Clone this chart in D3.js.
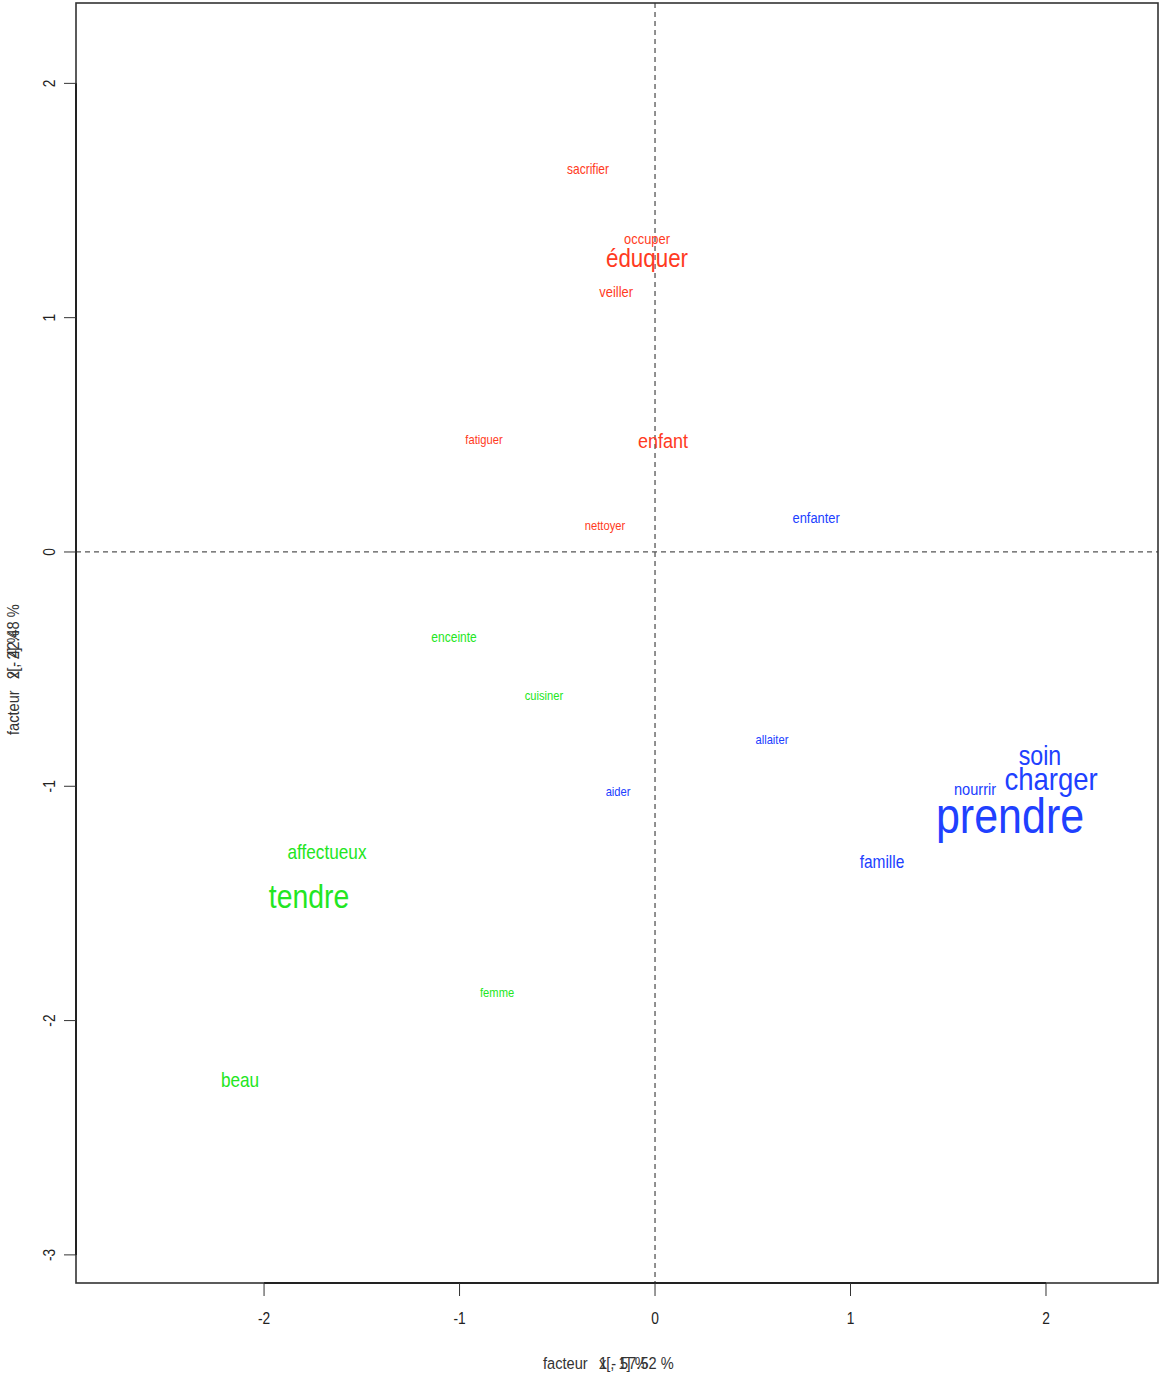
<!DOCTYPE html>
<html>
<head>
<meta charset="utf-8">
<script src="https://cdn.jsdelivr.net/npm/d3@7"></script>
<style>
  body { margin: 0; background: #fff; }
  text { font-family: "Liberation Sans", Arial, sans-serif; }
</style>
</head>
<body>
<script>
// words and their factor coordinates
const words = ["sacrifier","occuper","éduquer","veiller","fatiguer","enfant","nettoyer",
  "enfanter","enceinte","cuisiner","allaiter","aider","soin","nourrir","charger","prendre",
  "famille","affectueux","tendre","femme","beau"]
const f1 = [-0.343,-0.041,-0.041,-0.199,-0.875,0.041,-0.256,
  0.824,-1.028,-0.568,0.598,-0.189,1.969,1.637,2.026,1.816,
  1.161,-1.678,-1.770,-0.808,-2.123]
const f2 = [1.635,1.336,1.255,1.11,0.478,0.474,0.111,
  0.145,-0.363,-0.615,-0.802,-1.024,-0.866,-1.01,-0.969,-1.127,
  -1.323,-1.28,-1.472,-1.882,-2.254]
const sizes = [14,15,26,15,13,21,13, 15,14,13,13,13,27,17,32,50, 18,20,33,13,20]
const groups = [1,1,1,1,1,1,1, 2,3,3,2,2,2,2,2,2, 2,3,3,3,3]
const xTicks = [-2,-1,0,1,2]
const yTicks = [-3,-2,-1,0,1,2]

const colors = {1:"#ff3a22", 2:"#2040ff", 3:"#22e622"}
const sx = 0.86 // condensed look of the original

const W = 1160, H = 1377
const pL = 76, pR = 1158, pT = 3, pB = 1283

const x = d3.scaleLinear().domain([-2.962, 2.573]).range([pL, pR])
const y = d3.scaleLinear().domain([-3.12, 2.343]).range([pB, pT])

const svg = d3.select("body").append("svg").attr("width", W).attr("height", H)

// dashed zero lines
svg.append("line").attr("x1", x(0)).attr("x2", x(0)).attr("y1", pT).attr("y2", pB)
  .attr("stroke", "#555").attr("stroke-dasharray", "5,4").attr("stroke-width", 1.3)
svg.append("line").attr("x1", pL).attr("x2", pR).attr("y1", y(0)).attr("y2", y(0))
  .attr("stroke", "#555").attr("stroke-dasharray", "5,4").attr("stroke-width", 1.3)

// box
svg.append("rect").attr("x", pL).attr("y", pT).attr("width", pR - pL).attr("height", pB - pT)
  .attr("fill", "none").attr("stroke", "#333").attr("stroke-width", 1.6)

// x axis
const gx = svg.append("g")
gx.append("line").attr("x1", x(-2)).attr("x2", x(2)).attr("y1", pB).attr("y2", pB)
  .attr("stroke", "#222").attr("stroke-width", 2)
gx.selectAll("line.t").data(xTicks).enter().append("line").attr("class", "t")
  .attr("x1", d => x(d)).attr("x2", d => x(d)).attr("y1", pB).attr("y2", pB + 13)
  .attr("stroke", "#333")
gx.selectAll("text").data(xTicks).enter().append("text")
  .attr("transform", d => `translate(${x(d)},${pB + 41}) scale(${sx},1)`)
  .attr("text-anchor", "middle").attr("font-size", 16).attr("fill", "#222")
  .text(d => d)

// y axis
const gy = svg.append("g")
gy.append("line").attr("x1", pL).attr("x2", pL).attr("y1", y(-3)).attr("y2", y(2))
  .attr("stroke", "#222").attr("stroke-width", 2)
gy.selectAll("line.t").data(yTicks).enter().append("line").attr("class", "t")
  .attr("x1", pL).attr("x2", pL - 12).attr("y1", d => y(d)).attr("y2", d => y(d))
  .attr("stroke", "#333")
gy.selectAll("text").data(yTicks).enter().append("text")
  .attr("transform", d => `translate(${pL - 21},${y(d)}) rotate(-90) scale(${sx},1)`)
  .attr("text-anchor", "middle").attr("font-size", 16).attr("fill", "#222")
  .text(d => d)

// axis titles: "facteur" then two labels printed over each other, as in the original
const xTitles = ["1 - 57.52 %", "x[, 1]  %"]
svg.append("text").attr("transform", `translate(543,1369) scale(${sx},1)`)
  .attr("font-size", 17).attr("fill", "#333").text("facteur")
xTitles.forEach(t => {
  svg.append("text").attr("transform", `translate(599,1369) scale(${sx},1)`)
    .attr("font-size", 17).attr("fill", "#333").text(t)
})
const yTitles = ["2 - 42.48 %", "x[, 2]  %"]
svg.append("text").attr("transform", `translate(19,735) rotate(-90) scale(${sx},1)`)
  .attr("font-size", 17).attr("fill", "#333").text("facteur")
yTitles.forEach(t => {
  svg.append("text").attr("transform", `translate(19,679) rotate(-90) scale(${sx},1)`)
    .attr("font-size", 17).attr("fill", "#333").text(t)
})

// words
const data = words.map((w, i) => ({w, a: f1[i], b: f2[i], s: sizes[i], g: groups[i]}))
svg.append("g").selectAll("text").data(data).enter().append("text")
  .attr("transform", d => `translate(${x(d.a)},${y(d.b)}) scale(${sx},1)`)
  .attr("text-anchor", "middle").attr("dominant-baseline", "central")
  .attr("font-size", d => d.s).attr("fill", d => colors[d.g])
  .text(d => d.w)
</script>
</body>
</html>
